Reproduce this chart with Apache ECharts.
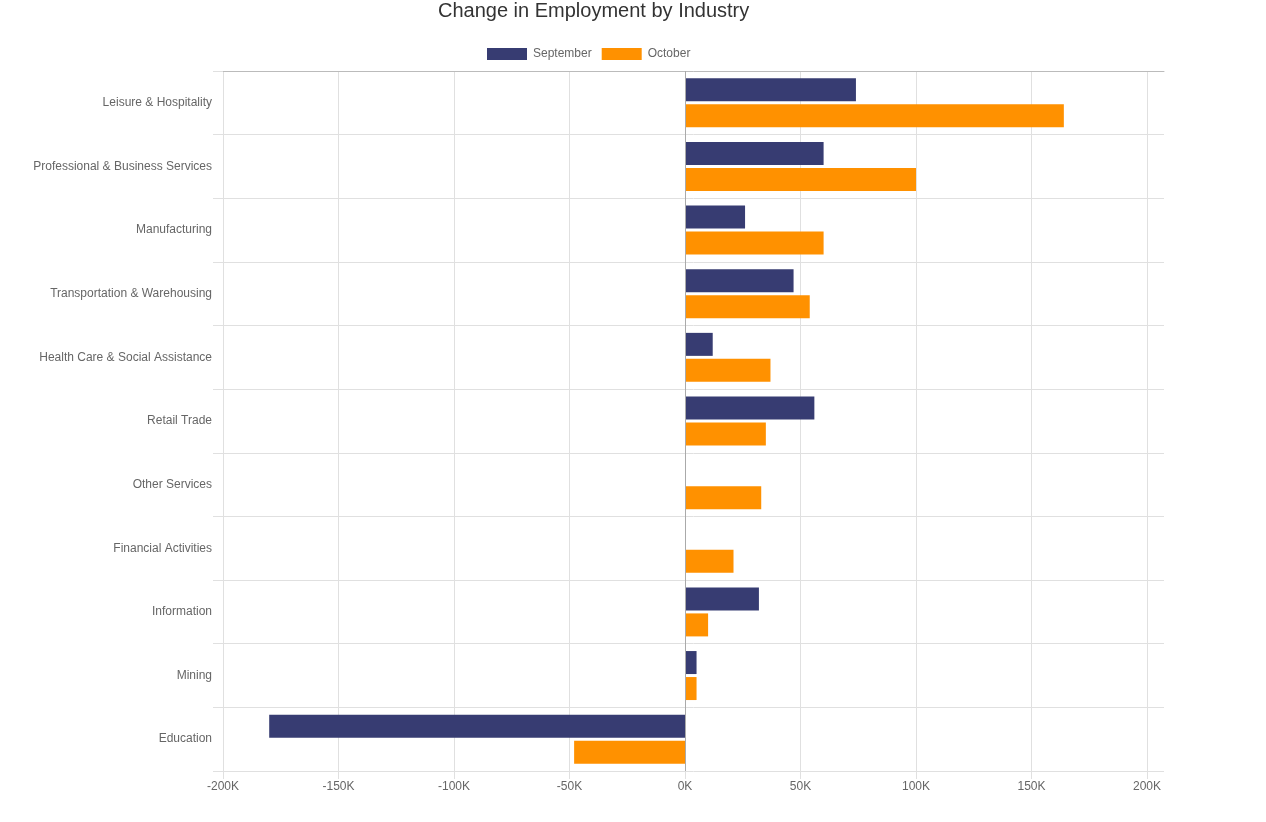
<!DOCTYPE html>
<html>
<head>
<meta charset="utf-8">
<script src="https://cdn.jsdelivr.net/npm/echarts@6/dist/echarts.min.js"></script>
<style>html,body{margin:0;padding:0;background:#fff;}#c{width:1266px;height:822px;}</style>
</head>
<body>
<div id="c"></div>
<script>
const categories = ['Leisure & Hospitality','Professional & Business Services','Manufacturing','Transportation & Warehousing','Health Care & Social Assistance','Retail Trade','Other Services','Financial Activities','Information','Mining','Education'];
const september = [74000, 60000, 26000, 47000, 12000, 56000, 0, 0, 32000, 5000, -180000];
const october = [164000, 100000, 60000, 54000, 37000, 35000, 33000, 21000, 10000, 5000, -48000];
const seriesNames = ['September', 'October'];

const FONT = '"Liberation Sans", Arial, sans-serif';
const chart = echarts.init(document.getElementById('c'), null, {renderer: 'canvas'});
chart.setOption({
  animation: false,
  textStyle: {fontFamily: FONT},
  title: {
    text: 'Change in Employment by Industry',
    left: 438, top: 1, padding: 0,
    textStyle: {fontFamily: FONT, fontSize: 20, fontWeight: 'normal', color: '#333'}
  },
  legend: {
    data: seriesNames,
    left: 487, top: 48, padding: 0,
    itemWidth: 40, itemHeight: 12, itemGap: 10,
    icon: 'rect',
    textStyle: {fontFamily: FONT, fontSize: 12, color: '#666', padding: [2, 0, 0, 1]}
  },
  grid: [
    {left: 223, right: 119, top: 71, bottom: 51},
    {left: 223, right: 102, top: 71, bottom: 51}
  ],
  xAxis: [
    {
      type: 'value', gridIndex: 0, min: -200000, max: 200000, interval: 50000,
      axisLine: {show: false},
      axisTick: {show: true, length: 8, lineStyle: {color: '#e0e0e0'}},
      splitLine: {show: true, lineStyle: {color: '#e0e0e0'}},
      axisLabel: {margin: 10, color: '#666', fontSize: 12, fontFamily: FONT,
        formatter: v => (v / 1000) + 'K'}
    },
    {
      type: 'value', gridIndex: 1, position: 'top', min: 0, max: 1,
      axisLine: {show: true, lineStyle: {color: '#bbb'}},
      axisTick: {show: false}, axisLabel: {show: false}, splitLine: {show: false}
    }
  ],
  yAxis: [
    {
      type: 'category', gridIndex: 0, data: categories, inverse: true,
      axisLine: {show: false}, axisTick: {show: false}, axisLabel: {show: false}, splitLine: {show: false}
    },
    {
      type: 'category', gridIndex: 1, data: categories, inverse: true,
      axisLine: {show: false},
      axisTick: {show: true, length: 10, lineStyle: {color: '#e0e0e0'}},
      splitLine: {show: true, lineStyle: {color: '#e0e0e0'}},
      axisLabel: {margin: 11, color: '#666', fontSize: 12, fontFamily: FONT}
    }
  ],
  series: [
    {
      name: seriesNames[0], type: 'bar', xAxisIndex: 0, yAxisIndex: 0,
      data: september, barCategoryGap: '23%', barGap: '13%',
      itemStyle: {color: '#373c72'}
    },
    {
      name: seriesNames[1], type: 'bar', xAxisIndex: 0, yAxisIndex: 0,
      data: october, barCategoryGap: '23%', barGap: '13%',
      itemStyle: {color: '#ff9100'},
      markLine: {
        silent: true, symbol: 'none', label: {show: false},
        lineStyle: {color: '#aaa', type: 'solid', width: 1},
        data: [{xAxis: 0}]
      }
    }
  ]
});
</script>
</body>
</html>
